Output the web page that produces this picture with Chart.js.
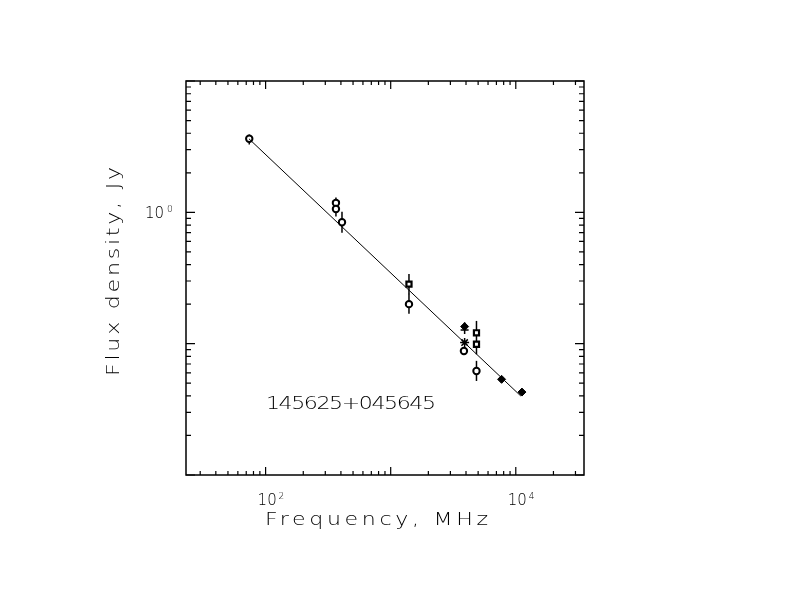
<!DOCTYPE html>
<html lang="en">
<head>
  <meta charset="UTF-8" />
  <title>145625+045645 spectrum</title>
  <script src="https://cdn.jsdelivr.net/npm/chart.js"></script>
  <style>
    body { margin: 0; background: white; }
    canvas { display: block; }
  </style>
</head>
<body>
  <canvas id="spec" width="792" height="612"></canvas>

  <script>
    // flux points by symbol (MHz, Jy)
    const circFreq = [74, 365, 365, 408, 1400, 3850, 4850];
    const circFlux = [3.63, 1.18, 1.06, 0.84, 0.20, 0.088, 0.062];
    const sqFreq = [1400, 4850, 4850];
    const sqFlux = [0.284, 0.121, 0.099];
    const diaFreq = [3900, 7700, 11200];
    const diaFlux = [0.135, 0.0535, 0.0428];
    const starFreq = [3900];
    const starFlux = [0.102];
    const crossFreq = [3900, 365];
    const crossFlux = [0.127, 1.21];

    // error bars
    const errFreq = [74, 365, 408, 1400, 1400, 3900, 4850, 4850];
    const errLo = [3.29, 0.93, 0.70, 0.238, 0.169, 0.127, 0.083, 0.052];
    const errHi = [3.92, 1.19, 1.01, 0.339, 0.240, 0.145, 0.149, 0.074];

    // fitted power law
    const fitFreq = [73.6, 10980];
    const fitFlux = [3.63, 0.0399];

    const xTickLabels = [[100, '2'], [10000, '4']];
    const yTickLabels = [[1, '0']];

    const pts = (xs, ys) => xs.map((x, i) => ({ x: x, y: ys[i] }));

    const thinFont = (px) => `200 ${px}px "DejaVu Sans", sans-serif`;

    // draw text stretched to a given width (the original uses a wide stroke font)
    function spaced(ctx, text, x, y, width, stretch) {
      const sx = stretch || 1.3;
      ctx.save();
      ctx.translate(x, y);
      ctx.scale(sx, 1);
      ctx.letterSpacing = '0px';
      const w = ctx.measureText(text).width;
      const sp = (width / sx - w) / Math.max(text.length - 1, 1);
      ctx.letterSpacing = sp + 'px';
      ctx.fillText(text, 0, 0);
      ctx.restore();
    }

    const framePlugin = {
      id: 'frame',
      beforeDatasetsDraw(chart) {
        const { ctx, scales: { x, y } } = chart;
        ctx.save();
        ctx.strokeStyle = '#000';
        ctx.lineWidth = 1.5;
        errFreq.forEach((f, i) => {
          const px = x.getPixelForValue(f);
          ctx.beginPath();
          ctx.moveTo(px, y.getPixelForValue(errLo[i]));
          ctx.lineTo(px, y.getPixelForValue(errHi[i]));
          ctx.stroke();
        });
        ctx.restore();
      },
      afterDraw(chart) {
        const { ctx, chartArea: a, scales: { x, y } } = chart;
        ctx.save();
        ctx.strokeStyle = '#000';
        ctx.lineWidth = 1.5;
        ctx.strokeRect(a.left, a.top, a.right - a.left, a.bottom - a.top);

        ctx.lineWidth = 1.2;
        ctx.beginPath();
        // x ticks, top and bottom, pointing in
        for (let d = 10; d <= 1e5; d *= 10) {
          for (let m = 1; m <= 9; m++) {
            const v = d * m;
            if (v < x.min || v > x.max) continue;
            const px = x.getPixelForValue(v);
            const len = m === 1 ? 8 : 4;
            ctx.moveTo(px, a.bottom); ctx.lineTo(px, a.bottom - len);
            ctx.moveTo(px, a.top); ctx.lineTo(px, a.top + len);
          }
        }
        // y ticks, left and right
        for (let d = 0.01; d <= 10; d *= 10) {
          for (let m = 1; m <= 9; m++) {
            const v = d * m;
            if (v < y.min * 0.999 || v > y.max * 1.001) continue;
            const py = y.getPixelForValue(v);
            const len = m === 1 ? 9 : 5;
            ctx.moveTo(a.left, py); ctx.lineTo(a.left + len, py);
            ctx.moveTo(a.right, py); ctx.lineTo(a.right - len, py);
          }
        }
        ctx.stroke();

        ctx.fillStyle = '#000';
        ctx.textBaseline = 'alphabetic';
        ctx.textAlign = 'left';
        xTickLabels.forEach(([v, e]) => {
          const px = x.getPixelForValue(v);
          ctx.font = thinFont(15);
          ctx.fillText('10', px - 8, 505);
          ctx.font = thinFont(9);
          ctx.fillText(e, px + 13, 499);
        });
        yTickLabels.forEach(([v, e]) => {
          const py = y.getPixelForValue(v);
          ctx.font = thinFont(15);
          ctx.fillText('10', 145, py + 6);
          ctx.font = thinFont(9);
          ctx.fillText(e, 167, py);
        });

        ctx.font = thinFont(17);
        spaced(ctx, 'Frequency, MHz', 265, 525, 223);
        spaced(ctx, '145625+045645', 266, 409, 170);

        ctx.translate(119, 376);
        ctx.rotate(-Math.PI / 2);
        spaced(ctx, 'Flux density, Jy', 0, 0, 209);
        ctx.restore();
      }
    };

    new Chart(document.getElementById('spec'), {
      type: 'scatter',
      data: {
        datasets: [
          {
            type: 'line',
            data: pts(fitFreq, fitFlux),
            borderColor: '#000',
            borderWidth: 1,
            pointRadius: 0,
            fill: false
          },
          {
            data: pts(circFreq, circFlux),
            pointStyle: 'circle',
            pointRadius: 3.2,
            backgroundColor: '#fff',
            borderColor: '#000',
            borderWidth: 2
          },
          {
            data: pts(sqFreq, sqFlux),
            pointStyle: 'rect',
            pointRadius: 3.6,
            backgroundColor: '#fff',
            borderColor: '#000',
            borderWidth: 2.2
          },
          {
            data: pts(diaFreq, diaFlux),
            pointStyle: 'rectRot',
            pointRadius: 4,
            backgroundColor: '#000',
            borderColor: '#000',
            borderWidth: 1
          },
          {
            data: pts(starFreq, starFlux),
            pointStyle: 'star',
            pointRadius: 4.5,
            backgroundColor: '#000',
            borderColor: '#000',
            borderWidth: 1.5
          },
          {
            data: pts(crossFreq, crossFlux),
            pointStyle: 'cross',
            pointRadius: 4,
            backgroundColor: '#000',
            borderColor: '#000',
            borderWidth: 1.5
          }
        ]
      },
      options: {
        responsive: false,
        animation: false,
        layout: { padding: { left: 186, right: 208, top: 81, bottom: 137 } },
        scales: {
          x: { type: 'logarithmic', min: 23.1, max: 35100, display: false },
          y: { type: 'logarithmic', min: 0.01, max: 10, display: false }
        },
        plugins: {
          legend: { display: false },
          tooltip: { enabled: false }
        }
      },
      plugins: [framePlugin]
    });
  </script>
</body>
</html>
